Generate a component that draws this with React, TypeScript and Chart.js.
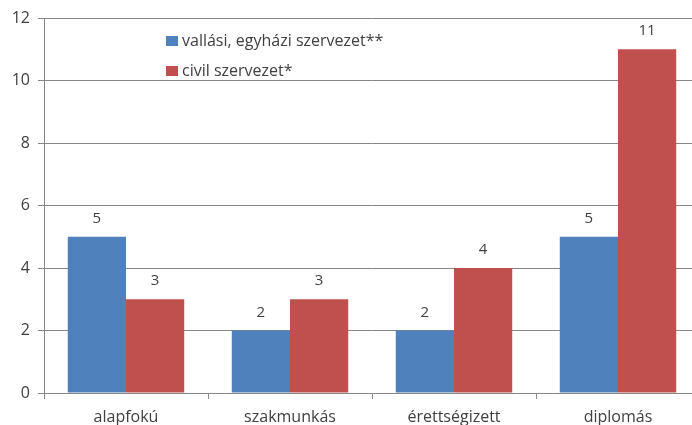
import React, { useEffect, useRef } from "react";
import { Chart, registerables } from "chart.js";

Chart.register(...registerables);

const categories = ["alapfokú", "szakmunkás", "érettségizett", "diplomás"];
const seriesNames = ["vallási, egyházi szervezet**", "civil szervezet*"];
const religiousValues = [5, 2, 2, 5];
const civilValues = [3, 3, 4, 11];
const yTicks = [0, 2, 4, 6, 8, 10, 12];

const FONT = "'Open Sans', sans-serif";
const FS = 16;
const TEXT = "#404040";
const GRID = "#878787";
const BLUE = "#4F81BD";
const RED = "#C0504D";

const dataLabels = {
  id: "dataLabels",
  afterDatasetsDraw(chart: any) {
    const ctx = chart.ctx;
    ctx.save();
    ctx.font = `${FS - 1}px ${FONT}`;
    ctx.fillStyle = TEXT;
    ctx.textAlign = "center";
    ctx.textBaseline = "alphabetic";
    chart.data.datasets.forEach((ds: any, i: number) => {
      const meta = chart.getDatasetMeta(i);
      meta.data.forEach((el: any, j: number) => {
        ctx.fillText(String(ds.data[j]), el.x, el.y - 14);
      });
    });
    ctx.restore();
  },
};

const innerLegend = {
  id: "innerLegend",
  afterDraw(chart: any) {
    const ctx = chart.ctx;
    const x0 = chart.chartArea.left + 122;
    const y0 = chart.chartArea.top + 23;
    ctx.save();
    ctx.font = `${FS}px ${FONT}`;
    ctx.textBaseline = "middle";
    ctx.textAlign = "left";
    chart.data.datasets.forEach((ds: any, i: number) => {
      const y = y0 + i * 30;
      ctx.fillStyle = ds.backgroundColor;
      ctx.fillRect(x0, y - 5, 12, 10);
      ctx.fillStyle = TEXT;
      ctx.fillText(ds.label, x0 + 16, y);
    });
    ctx.restore();
  },
};

export default function App() {
  const ref = useRef<HTMLCanvasElement>(null);
  useEffect(() => {
    if (!ref.current) return;
    const chart = new Chart(ref.current, {
      type: "bar",
      data: {
        labels: categories,
        datasets: [
          { label: seriesNames[0], data: religiousValues, backgroundColor: BLUE, barPercentage: 1, categoryPercentage: 0.71 },
          { label: seriesNames[1], data: civilValues, backgroundColor: RED, barPercentage: 1, categoryPercentage: 0.71 },
        ],
      },
      options: {
        animation: false,
        responsive: false,
        maintainAspectRatio: false,
        layout: { padding: { top: 18, left: 0, right: 0, bottom: 0 } },
        plugins: { legend: { display: false }, tooltip: { enabled: false } },
        scales: {
          x: {
            grid: { drawOnChartArea: false, color: GRID, tickLength: 6, offset: true },
            border: { color: GRID },
            ticks: { color: TEXT, font: { family: FONT, size: FS }, padding: 9, maxRotation: 0 },
            afterFit(scale: any) { scale.height = 32; },
          },
          y: {
            min: 0,
            max: 12,
            afterBuildTicks(scale: any) { scale.ticks = yTicks.map((v) => ({ value: v })); },
            grid: { color: GRID, tickLength: 6 },
            border: { color: GRID },
            ticks: { color: TEXT, font: { family: FONT, size: FS }, padding: 8 },
            afterFit(scale: any) { scale.width = 44; },
          },
        },
      },
      plugins: [dataLabels, innerLegend],
    });
    return () => chart.destroy();
  }, []);
  return (
    <div style={{ position: "fixed", left: 0, top: 0, width: 700, height: 425, background: "#fff" }}>
      <canvas ref={ref} width={700} height={425} style={{ width: 700, height: 425, display: "block" }} />
    </div>
  );
}
